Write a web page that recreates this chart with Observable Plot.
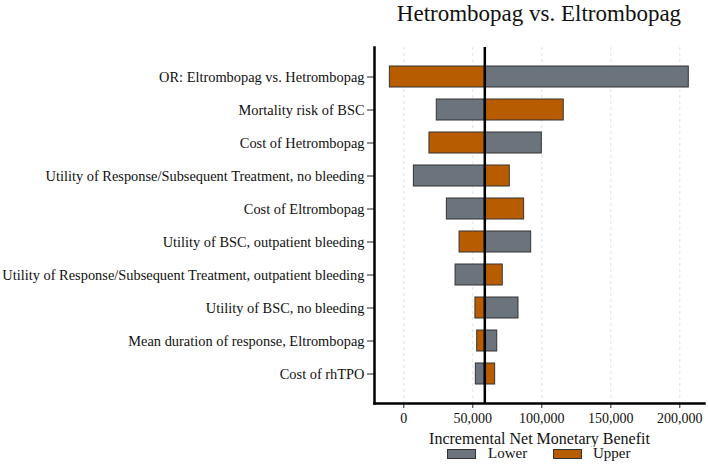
<!DOCTYPE html>
<html>
<head>
<meta charset="utf-8">
<script src="https://cdn.jsdelivr.net/npm/d3@7"></script>
<script src="https://cdn.jsdelivr.net/npm/@observablehq/plot@0.6"></script>
<style>
  body { margin: 0; background: #fff; font-family: "Liberation Serif", "Times New Roman", serif; }
  #title { height: 40px; box-sizing: border-box; padding: 1px 4px 0 374px; text-align: center; font-size: 23px; color: #111; white-space: nowrap; font-family: "Liberation Serif", serif; }
  #legend { position: relative; height: 18px; font-size: 15px; color: #111; font-family: "Liberation Serif", serif; }
  #legend .box { position: absolute; top: 2px; width: 27px; height: 8px; border: 1px solid #333; }
  #legend .lab { position: absolute; top: -2px; white-space: nowrap; }
</style>
</head>
<body>
<div id="title">Hetrombopag vs. Eltrombopag</div>
<div id="chart"></div>
<div id="legend">
  <div class="box" style="left:447px;background:#6b737c"></div>
  <div class="lab" style="left:488px">Lower</div>
  <div class="box" style="left:553px;background:#b85c00"></div>
  <div class="lab" style="left:593px">Upper</div>
</div>
<script>
const parameters = [
  "OR: Eltrombopag vs. Hetrombopag",
  "Mortality risk of BSC",
  "Cost of Hetrombopag",
  "Utility of Response/Subsequent Treatment, no bleeding",
  "Cost of Eltrombopag",
  "Utility of BSC, outpatient bleeding",
  "Utility of Response/Subsequent Treatment, outpatient bleeding",
  "Utility of BSC, no bleeding",
  "Mean duration of response, Eltrombopag",
  "Cost of rhTPO"
];
const lowerValues = [206500, 23900, 100000, 7300, 31200, 92300, 37500, 83100, 67700, 52200];
const upperValues = [-10100, 115900, 18600, 76800, 87200, 40400, 71700, 51900, 53200, 66200];
const baseValue = 58700;
const xTicks = [0, 50000, 100000, 150000, 200000];
const seriesNames = ["Lower", "Upper"];
const seriesColors = ["#6b737c", "#b85c00"];

const rows = [];
parameters.forEach((p, i) => {
  rows.push({parameter: p, series: "Lower", value: lowerValues[i]});
  rows.push({parameter: p, series: "Upper", value: upperValues[i]});
});

const font = '"Liberation Serif", "Times New Roman", serif';

const chart = Plot.plot({
  width: 708,
  height: 407,
  marginTop: 7,
  marginBottom: 44,
  marginLeft: 374,
  marginRight: 4,
  style: {fontFamily: font, fontSize: "14px", color: "#111", background: "#fff"},
  x: {domain: [-21230, 217890], ticks: xTicks, tickFormat: d3.format(",")},
  y: {domain: parameters, paddingInner: 0.37, paddingOuter: 0.5, label: null},
  color: {domain: seriesNames, range: seriesColors},
  marks: [
    Plot.gridX(xTicks, {stroke: "#d9d9d9", strokeOpacity: 1, strokeDasharray: "3,3", strokeWidth: 0.8}),
    Plot.barX(rows, {y: "parameter", x1: baseValue, x2: "value", fill: "series", stroke: "#333", strokeWidth: 1}),
    Plot.ruleX([baseValue], {stroke: "#000", strokeWidth: 2.5}),
    Plot.axisY({tickSize: 7, tickPadding: 3, fontSize: 14.4, label: null, stroke: "#222"}),
    Plot.axisX(xTicks, {tickSize: 5, tickPadding: 5, fontSize: 14, tickFormat: d3.format(","), label: "Incremental Net Monetary Benefit", labelAnchor: "center", labelArrow: "none", labelOffset: 40, stroke: "#222"}),
    Plot.frame({anchor: "left", stroke: "#000", strokeWidth: 2.5}),
    Plot.frame({anchor: "bottom", stroke: "#000", strokeWidth: 2.5})
  ]
});
document.getElementById("chart").appendChild(chart);
chart.querySelectorAll('g[aria-label="x-axis label"] text').forEach(t => t.setAttribute("font-size", "16"));
</script>
</body>
</html>
